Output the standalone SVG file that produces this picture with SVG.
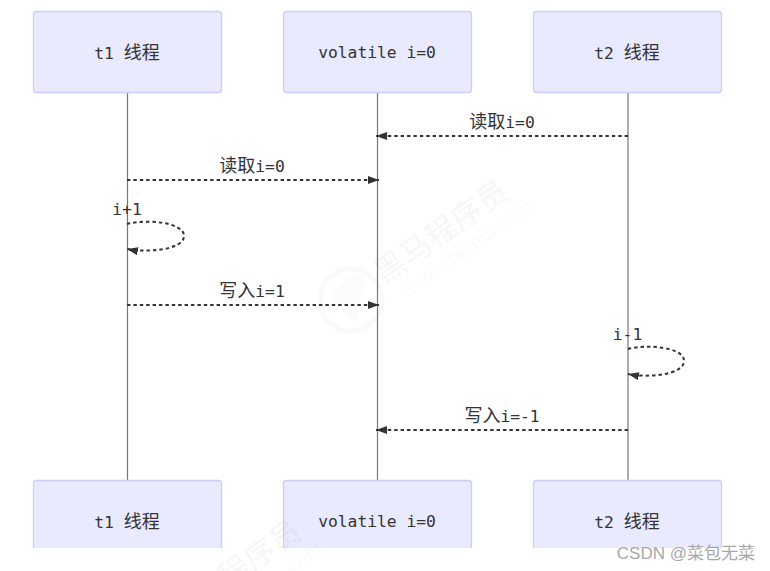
<svg xmlns="http://www.w3.org/2000/svg" width="770" height="571" viewBox="0 0 770 571">
<style>
.box{fill:#eaeaff;stroke:#ccccff;stroke-width:1.3}
.life{stroke:#777;stroke-width:1.2;fill:none}
.msg{stroke:#333;stroke-width:2;fill:none;stroke-dasharray:3.4 3}
.t{font-family:"DejaVu Sans Mono","Noto Sans CJK SC",monospace;font-size:16.3px;fill:#333;text-anchor:middle}
.c{font-family:"Noto Sans CJK SC",sans-serif;font-size:18px}
.wm{font-family:"Noto Sans CJK SC",sans-serif;font-weight:700;font-size:31px;fill:#000;fill-opacity:.03}
.wm2{font-family:"Liberation Sans",sans-serif;font-size:20px;fill:#000;fill-opacity:.03}
</style>
<defs>
<marker id="a" markerUnits="userSpaceOnUse" markerWidth="12" markerHeight="8" refX="11" refY="4" orient="auto"><path d="M0 0L11 4L0 8Z" fill="#333"/></marker>
<clipPath id="c"><rect x="0" y="0" width="770" height="548"/></clipPath>
</defs>
<rect width="770" height="571" fill="#fff"/>
<g id="connectors">
<line class="life" x1="127.500" y1="93" x2="127.500" y2="480"/>
<line class="life" x1="377.500" y1="93" x2="377.500" y2="480"/>
<line class="life" x1="628" y1="93" x2="628" y2="480"/>
<line class="msg" x1="628" y1="136" x2="376" y2="136" marker-end="url(#a)"/>
<line class="msg" x1="127" y1="180" x2="379" y2="180" marker-end="url(#a)"/>
<path class="msg" d="M127 224C146 219 184 222 184 236C184 250 146 253 127 249" marker-end="url(#a)"/>
<line class="msg" x1="127" y1="305" x2="379" y2="305" marker-end="url(#a)"/>
<path class="msg" d="M628 349C647 344 684 347 684 361C684 375 647 378 628 374" marker-end="url(#a)"/>
<line class="msg" x1="628" y1="430" x2="376" y2="430" marker-end="url(#a)"/>
</g>
<g id="labels">
<text class="t" x="502" y="128"><tspan class="c">读取</tspan>i=0</text>
<text class="t" x="252" y="172"><tspan class="c">读取</tspan>i=0</text>
<text class="t" x="127" y="215">i+1</text>
<text class="t" x="252" y="297"><tspan class="c">写入</tspan>i=1</text>
<text class="t" x="627.500" y="340">i-1</text>
<text class="t" x="502" y="422"><tspan class="c">写入</tspan>i=-1</text>
</g>
<g id="node-t1-top"><rect class="box" x="33.500" y="11.500" width="188" height="81" rx="3"/><text class="t" x="127" y="58.500">t1 <tspan class="c">线程</tspan></text></g>
<g id="node-volatile-top"><rect class="box" x="283.500" y="11.500" width="188" height="81" rx="3"/><text class="t" x="377" y="58">volatile i=0</text></g>
<g id="node-t2-top"><rect class="box" x="533.500" y="11.500" width="188" height="81" rx="3"/><text class="t" x="627" y="58.500">t2 <tspan class="c">线程</tspan></text></g>
<g clip-path="url(#c)">
<g id="node-t1-bottom"><rect class="box" x="33.500" y="480.500" width="188" height="81" rx="3"/><text class="t" x="127" y="527.500">t1 <tspan class="c">线程</tspan></text></g>
<g id="node-volatile-bottom"><rect class="box" x="283.500" y="480.500" width="188" height="81" rx="3"/><text class="t" x="377" y="527">volatile i=0</text></g>
<g id="node-t2-bottom"><rect class="box" x="533.500" y="480.500" width="188" height="81" rx="3"/><text class="t" x="627" y="527.500">t2 <tspan class="c">线程</tspan></text></g>
</g>
<g id="watermark">
<g transform="translate(384,285) rotate(-35)"><text class="wm" x="0" y="0">黑马程序员</text><text class="wm2" x="10" y="24">www.itheima.com</text></g>
<circle cx="351" cy="300" r="31" fill="none" stroke="#000" stroke-opacity=".025" stroke-width="5"/>
<path d="M332 300C334 282 348 274 366 277C358 281 372 284 362 289C368 294 360 297 360 304L356 322C346 320 343 312 344 305C338 306 335 303 332 300Z" fill="#000" fill-opacity=".015"/>
<g transform="translate(177,625) rotate(-35)"><text class="wm" x="62" y="0">程序员</text></g>
<g transform="translate(177,625) rotate(-35)"><text class="wm2" x="162" y="24" text-anchor="end">.com</text></g>
</g>
<text id="csdn" x="755" y="559" text-anchor="end" font-family="'Liberation Sans','Noto Sans CJK SC',sans-serif" font-size="17" fill="#a8a8a8">CSDN @菜包无菜</text>
</svg>
